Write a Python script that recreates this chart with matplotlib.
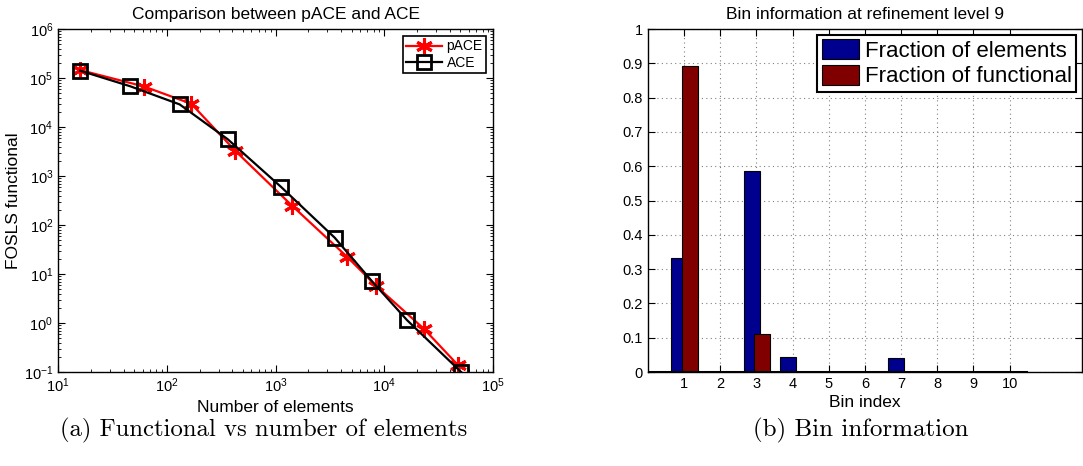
import numpy as np
import matplotlib
matplotlib.use('Agg')
import matplotlib.pyplot as plt

matplotlib.rcParams['font.family'] = 'sans-serif'
matplotlib.rcParams['font.sans-serif'] = ['Liberation Sans', 'DejaVu Sans']
matplotlib.rcParams['mathtext.default'] = 'regular'
matplotlib.rcParams['axes.linewidth'] = 1.0

# 左图: 泛函值 vs 单元数
pace_elems = [16, 62, 168, 424, 1418, 4540, 8450, 23000, 47300]
pace_func = [1.45e5, 6.7e4, 2.98e4, 3300, 248, 22.5, 5.65, 0.77, 0.14]
ace_elems = [16, 46, 131, 363, 1124, 3500, 7710, 16200, 50800]
ace_func = [1.41e5, 6.8e4, 2.9e4, 5640, 598, 55, 7.1, 1.14, 0.1]

# 右图: 第 9 层加密的 bin 信息
bins = np.arange(1, 11)
frac_elements = [0.333, 0, 0.586, 0.045, 0, 0, 0.041, 0, 0, 0]
frac_functional = [0.893, 0, 0.110, 0, 0, 0, 0, 0, 0, 0]

fig = plt.figure(figsize=(10.83, 4.66), dpi=100)

# ---------------- (a) ----------------
ax1 = fig.add_axes([0.0536, 0.2017, 0.4017, 0.736])
ax1.loglog(pace_elems, pace_func, color='red', linewidth=1.6, marker=(6, 2, 0),
           markersize=12, markeredgewidth=2.2, label='pACE')
ax1.loglog(ace_elems, ace_func, color='black', linewidth=1.6, marker='s',
           markersize=9.5, markerfacecolor='none', markeredgewidth=2, label='ACE')
ax1.set_xlim(10, 1e5)
ax1.set_ylim(1e-1, 1e6)
ax1.set_xticks([1e1, 1e2, 1e3, 1e4, 1e5])
ax1.set_yticks([10.0 ** k for k in range(-1, 7)])
ax1.tick_params(which='both', direction='in', top=True, right=True, labelsize=10.5)
ax1.tick_params(which='major', length=5)
ax1.tick_params(which='minor', length=2.5)
ax1.set_title('Comparison between pACE and ACE', fontsize=12.5, pad=7.5)
ax1.set_xlabel('Number of elements', fontsize=12.5, labelpad=3)
ax1.set_ylabel('FOSLS functional', fontsize=12.5, labelpad=2)
leg1 = ax1.legend(loc='upper right', fontsize=10, frameon=True, fancybox=False,
                  edgecolor='black', handlelength=2.6, borderpad=0.25,
                  labelspacing=0.15, handletextpad=0.3, borderaxespad=0.5,
                  framealpha=1)
leg1.get_frame().set_linewidth(1.2)

# ---------------- (b) ----------------
ax2 = fig.add_axes([0.5983, 0.2017, 0.4007, 0.736])
w = 0.44
ax2.bar(bins - 0.135, frac_elements, width=w, color=(0, 0, 0.5625),
        edgecolor='black', linewidth=0.8, label='Fraction of elements', zorder=2)
ax2.bar(bins + 0.15, frac_functional, width=w, color=(0.5, 0, 0),
        edgecolor='black', linewidth=0.8, label='Fraction of functional', zorder=3)
ax2.axhline(0, xmin=0, xmax=10.44 / 12, color='black', linewidth=2.2, zorder=4)
ax2.set_xlim(0, 12)
ax2.set_ylim(0, 1)
ax2.set_xticks(bins)
ax2.set_yticks(np.arange(0, 1.01, 0.1))
ax2.set_yticklabels(['0', '0.1', '0.2', '0.3', '0.4', '0.5', '0.6', '0.7',
                     '0.8', '0.9', '1'])
ax2.grid(True, linestyle=(0, (1, 3)), color='0.5', linewidth=0.8, zorder=0)
ax2.set_axisbelow(True)
ax2.tick_params(direction='in', top=True, right=True, length=5, labelsize=10.5)
ax2.set_title('Bin information at refinement level 9', fontsize=12.5, pad=7.5)
ax2.set_xlabel('Bin index', fontsize=12.5, labelpad=3)
leg2 = ax2.legend(loc='upper right', fontsize=16, frameon=True, fancybox=False,
                  edgecolor='black', handlelength=1.7, handleheight=1.0,
                  borderpad=0.2, labelspacing=0.15, handletextpad=0.25,
                  borderaxespad=0.25, framealpha=1)
leg2.get_frame().set_linewidth(1.5)

# 子图说明
fig.text(0.2438, 0.076, '(a) Functional vs number of elements', family='cmr10',
         fontsize=17.8, ha='center', va='center')
fig.text(0.795, 0.076, '(b) Bin information', family='cmr10',
         fontsize=18, ha='center', va='center')

fig.savefig('out.png', dpi=100)
